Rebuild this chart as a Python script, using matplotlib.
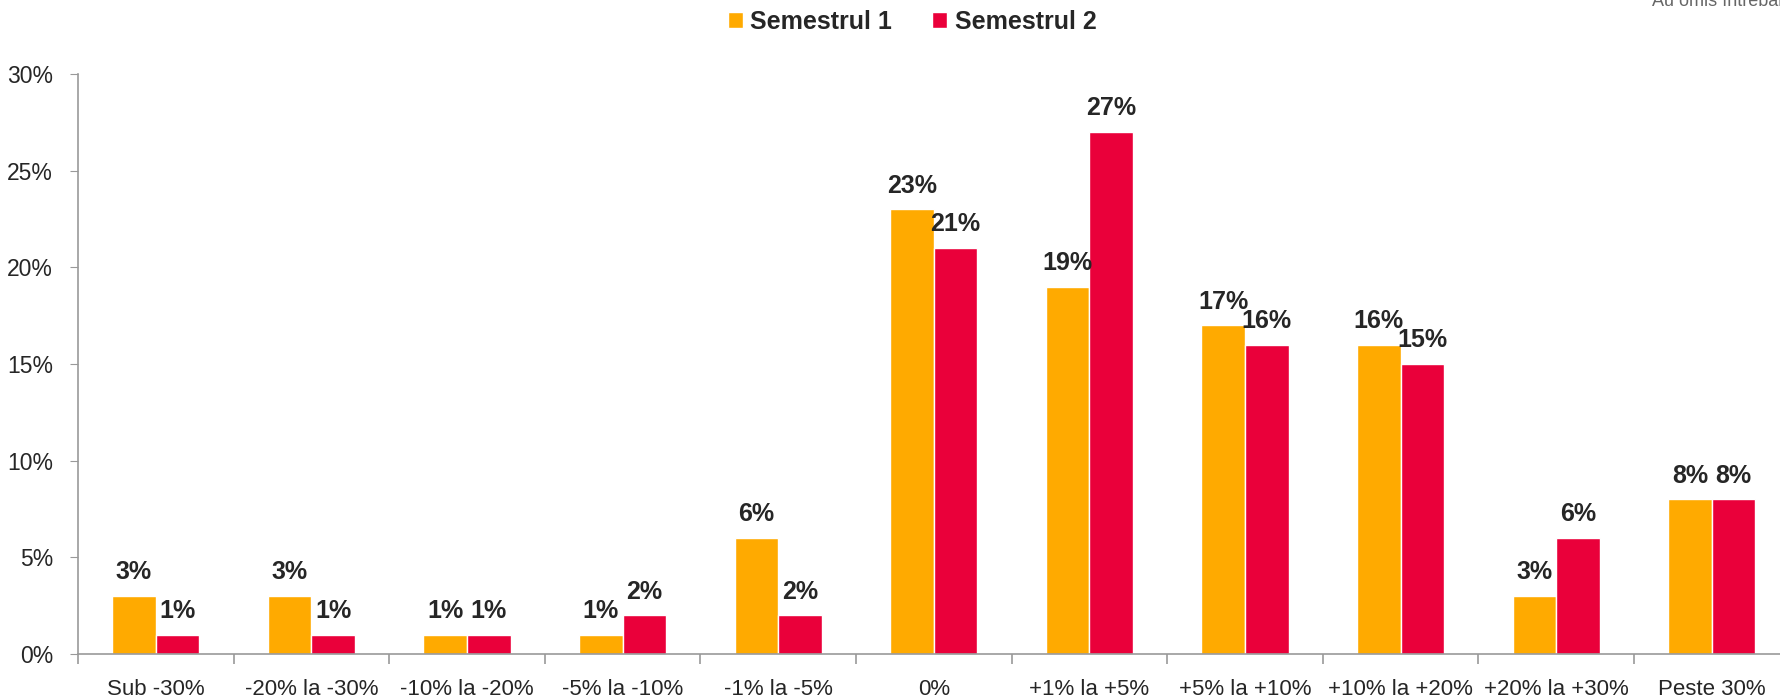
import matplotlib.pyplot as plt
import numpy as np

# Date din grafic
categorii = ['Sub -30%', '-20% la -30%', '-10% la -20%', '-5% la -10%', '-1% la -5%',
             '0%', '+1% la +5%', '+5% la +10%', '+10% la +20%', '+20% la +30%', 'Peste 30%']
semestrul_1 = [3, 3, 1, 1, 6, 23, 19, 17, 16, 3, 8]
semestrul_2 = [1, 1, 1, 2, 2, 21, 27, 16, 15, 6, 8]
y_ticks = [0, 5, 10, 15, 20, 25, 30]

ORANGE = '#FFAA00'
RED = '#EA003A'
TEXT = '#262626'
GRAY = '#999999'

plt.rcParams['font.family'] = ['Liberation Sans', 'DejaVu Sans']

fig = plt.figure(figsize=(17.8, 6.99), dpi=100)
ax = fig.add_axes([78 / 1780, 1 - 654 / 699, 1711.6 / 1780, 580 / 699])

x = np.arange(len(categorii))
w = 0.28
b1 = ax.bar(x - w / 2, semestrul_1, w, color=ORANGE, edgecolor='white', linewidth=1, label='Semestrul 1')
b2 = ax.bar(x + w / 2, semestrul_2, w, color=RED, edgecolor='white', linewidth=1, label='Semestrul 2')

# etichete cu valori deasupra barelor
for bars, vals in ((b1, semestrul_1), (b2, semestrul_2)):
    for bar, v in zip(bars, vals):
        ax.annotate(f'{v}%', (bar.get_x() + bar.get_width() / 2, v),
                    xytext=(0, 12), textcoords='offset points',
                    ha='center', va='baseline', fontsize=18, fontweight='bold', color=TEXT)

ax.set_xlim(-0.5, len(categorii) - 0.5)
ax.set_ylim(0, 30)

ax.set_yticks(y_ticks)
ax.set_yticklabels([f'{t}%' for t in y_ticks])
ax.tick_params(axis='y', length=6, color=GRAY, pad=12, labelsize=16.5, labelcolor=TEXT)

ax.set_xticks(x)
ax.set_xticklabels(categorii)
ax.set_xticks(np.arange(-0.5, len(categorii), 1), minor=True)
ax.tick_params(axis='x', which='major', length=0, pad=18, labelsize=16, labelcolor=TEXT)
ax.tick_params(axis='x', which='minor', length=7, color=GRAY, width=1.2)

for s in ('top', 'right'):
    ax.spines[s].set_visible(False)
for s in ('left', 'bottom'):
    ax.spines[s].set_color(GRAY)
    ax.spines[s].set_linewidth(1.2)

fig.legend(handles=[b1, b2], loc='center', bbox_to_anchor=(912 / 1780, 1 - 22 / 699),
           ncol=2, frameon=False, handlelength=0.6, handleheight=0.6,
           handletextpad=0.3, columnspacing=1.6,
           prop={'weight': 'bold', 'size': 18})
for t in fig.legends[0].get_texts():
    t.set_color(TEXT)

fig.text(1652 / 1780, 1 - 6 / 699, 'Au omis întrebarea', fontsize=13, color='#666666',
         ha='left', va='baseline')

fig.savefig('out.png', dpi=100)
